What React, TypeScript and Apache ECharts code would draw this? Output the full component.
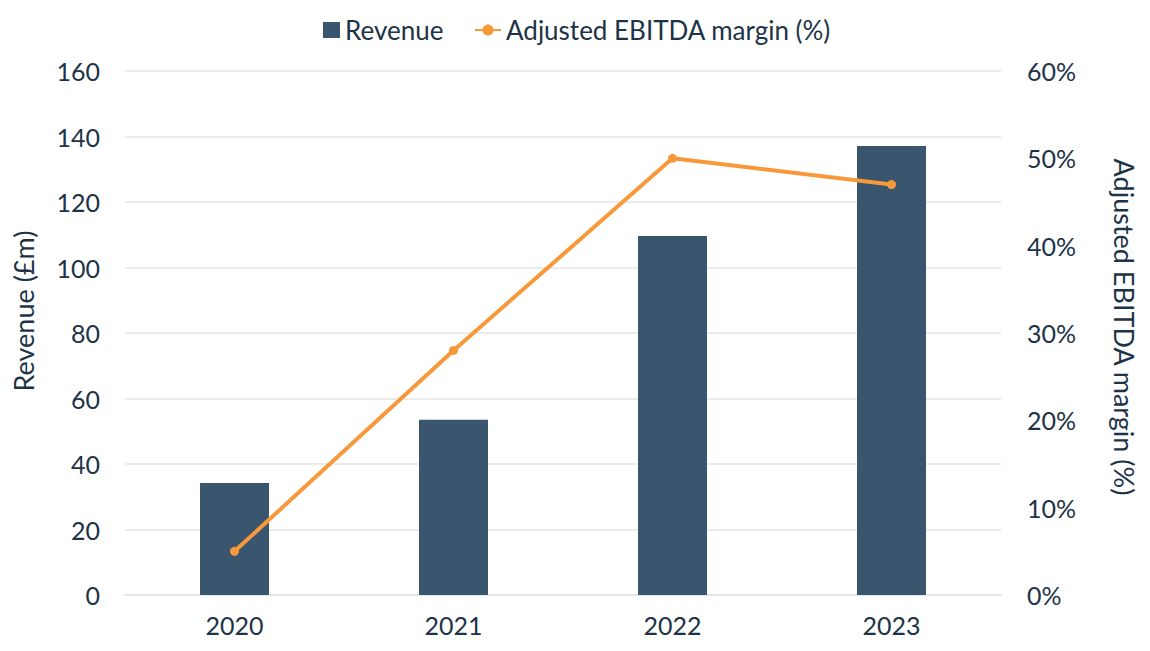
import React, { useEffect, useRef } from "react";
import * as echarts from "echarts";

const years = ["2020", "2021", "2022", "2023"];
const revenue = [34.2, 53.5, 109.6, 137.1];
const margin = [5.0, 28.0, 50.0, 47.0];
const leftTicks = { min: 0, max: 160, interval: 20 };
const rightTicks = { min: 0, max: 60, interval: 10 };

const TEXT = "#1d3347";
const FONT = "Lato";

export default function App() {
  const ref = useRef<HTMLDivElement>(null);
  useEffect(() => {
    if (!ref.current) return;
    const chart = echarts.init(ref.current, null, { renderer: "svg" });
    chart.setOption({
      animation: false,
      textStyle: { fontFamily: FONT, color: TEXT },
      legend: [
        {
          data: [{ name: "Revenue", icon: "rect" }],
          left: 318,
          top: 12,
          itemWidth: 17,
          itemHeight: 16,
          textStyle: { fontFamily: FONT, fontSize: 26, color: TEXT },
        },
        {
          data: ["Adjusted EBITDA margin (%)"],
          left: 469,
          top: 12,
          itemWidth: 26,
          itemHeight: 14,
          textStyle: { fontFamily: FONT, fontSize: 26, color: TEXT },
        },
      ],
      grid: { left: 125, right: 149, top: 71, bottom: 56, containLabel: false },
      xAxis: {
        type: "category",
        data: years,
        axisTick: { show: false },
        axisLine: { show: true, lineStyle: { color: "#e6e6e6", width: 2 } },
        axisLabel: { fontFamily: FONT, fontSize: 25, color: TEXT, margin: 17 },
      },
      yAxis: [
        {
          type: "value",
          ...leftTicks,
          name: "Revenue (£m)",
          nameLocation: "middle",
          nameGap: 88,
          nameRotate: 90,
          nameTextStyle: {
            fontFamily: FONT,
            fontSize: 27,
            color: TEXT,
            padding: [0, 0, 0, 44],
          },
          axisLabel: { fontFamily: FONT, fontSize: 25, color: TEXT, margin: 25 },
          splitLine: { lineStyle: { color: "#ebebeb", width: 2 } },
          axisLine: { show: false },
          axisTick: { show: false },
        },
        {
          type: "value",
          ...rightTicks,
          position: "right",
          name: "Adjusted EBITDA margin (%)",
          nameLocation: "middle",
          nameGap: 110,
          nameRotate: -90,
          nameTextStyle: {
            fontFamily: FONT,
            fontSize: 27,
            color: TEXT,
            padding: [0, 12, 0, 0],
          },
          axisLabel: { fontFamily: FONT, fontSize: 25, color: TEXT, margin: 26, formatter: "{value}%" },
          splitLine: { show: false },
          axisLine: { show: false },
          axisTick: { show: false },
        },
      ],
      series: [
        {
          name: "Revenue",
          type: "bar",
          data: revenue,
          barWidth: 69,
          itemStyle: { color: "#3a566f" },
        },
        {
          name: "Adjusted EBITDA margin (%)",
          type: "line",
          yAxisIndex: 1,
          data: margin,
          symbol: "circle",
          symbolSize: 9,
          lineStyle: { color: "#f7993b", width: 4 },
          itemStyle: { color: "#f7993b" },
        },
      ],
    });
    return () => chart.dispose();
  }, []);
  return (
    <div
      ref={ref}
      style={{ position: "fixed", left: 0, top: 0, width: 1150, height: 651, background: "#fff" }}
    />
  );
}
